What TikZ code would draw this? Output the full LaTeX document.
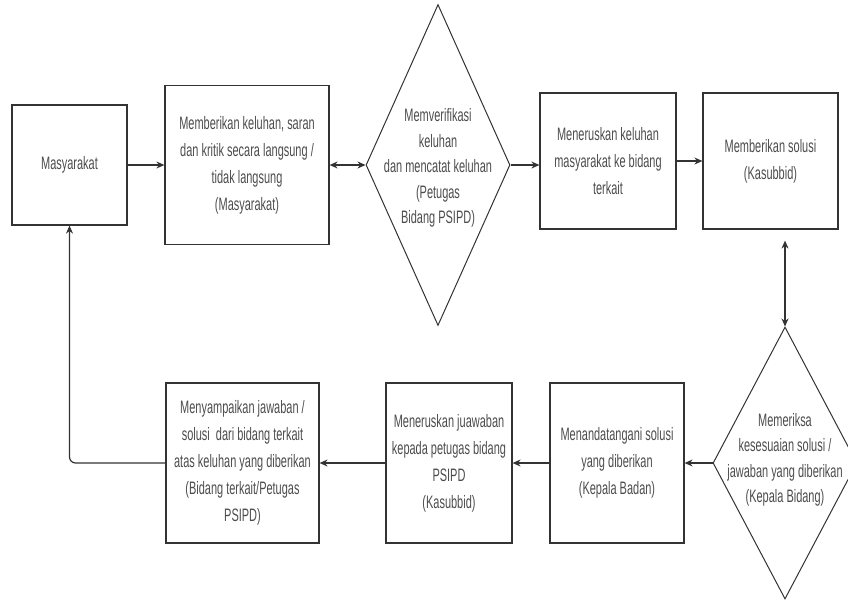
\documentclass[tikz,border=0pt]{standalone}
\usepackage{fontspec}
\setmainfont{Liberation Sans}[FakeStretch=0.61]
\usetikzlibrary{arrows.meta}
\usetikzlibrary{shapes.geometric}

\begin{document}
\begin{tikzpicture}
  [
    x=1pt,y=-1pt,
    box/.style={
      draw=black!80,
      line width=1.2pt,
      inner sep=0pt,
      align=center,
      text=black!70,
      font=\fontsize{18}{27}\selectfont
    },
    decision/.style={diamond,draw=black!80,line width=1pt,inner sep=0pt},
    txt/.style={align=center,text=black!70,font=\fontsize{18}{25.5}\selectfont},
    flow/.style={-{Stealth[length=8pt,width=7pt]},line width=1.2pt,black!80},
    both/.style={{Stealth[length=8pt,width=7pt]}-{Stealth[length=8pt,width=7pt]},line width=1.2pt,black!80},
  ]
    \useasboundingbox (0,0) rectangle (848,603);
    % top row
    \node [box,minimum width=115pt,minimum height=120pt] (masy) at (69.5,165) {Masyarakat};
    \node [box,minimum width=164pt,minimum height=159pt] (beri) at (247,165)
      {Memberikan keluhan, saran\\dan kritik secara langsung /\\tidak langsung\\(Masyarakat)};
    \node [decision,minimum width=144pt,minimum height=321pt] (verif) at (438,165) {};
    \node [txt] (veriftxt) at (438,168)
      {Memverifikasi\\keluhan\\dan mencatat keluhan\\(Petugas\\Bidang PSIPD)};
    \node [box,minimum width=136pt,minimum height=136pt] (terus) at (608,161)
      {Meneruskan keluhan\\masyarakat ke bidang\\terkait};
    \node [box,minimum width=135pt,minimum height=136pt] (solusi) at (770.5,161)
      {Memberikan solusi\\(Kasubbid)};
    % bottom row
    \node [decision,minimum width=144pt,minimum height=272pt] (periksa) at (785,463) {};
    \node [txt] (periksatxt) at (785,460)
      {Memeriksa\\kesesuaian solusi /\\jawaban yang diberikan\\(Kepala Bidang)};
    \node [box,minimum width=134pt,minimum height=160pt] (tanda) at (617,463)
      {Menandatangani solusi\\yang diberikan\\(Kepala Badan)};
    \node [box,minimum width=126pt,minimum height=160pt] (jawab) at (449,463)
      {Meneruskan juawaban\\kepada petugas bidang\\PSIPD\\(Kasubbid)};
    \node [box,minimum width=153pt,minimum height=160pt] (sampai) at (242.5,463)
      {Menyampaikan jawaban /\\solusi\ \ dari bidang terkait\\atas keluhan yang diberikan\\(Bidang terkait/Petugas\\PSIPD)};
    % arrows
    \draw [flow] (masy) -- (beri);
    \draw [both] (beri) -- (verif);
    \draw [flow] (verif.east) -- (verif.east -| terus.west);
    \draw [flow] (terus) -- (solusi);
    \draw [both,shorten <=11pt] (solusi.south -| periksa.north) -- (periksa.north);
    \draw [flow] (periksa) -- (tanda);
    \draw [flow] (tanda) -- (jawab);
    \draw [flow] (jawab) -- (sampai);
    \draw [flow,rounded corners=6pt] (sampai.west) -| (masy.south);
\end{tikzpicture}
\end{document}
